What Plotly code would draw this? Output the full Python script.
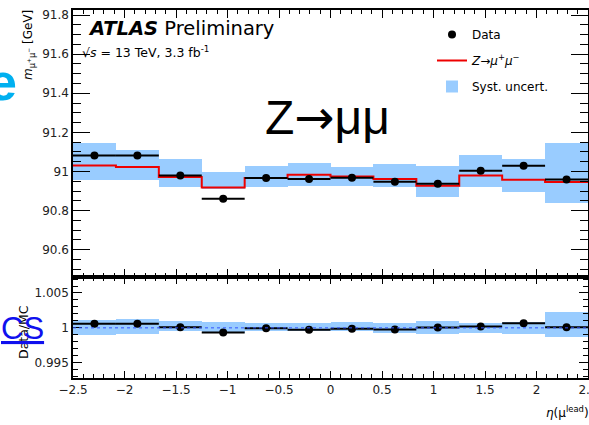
import numpy as np
import plotly.graph_objects as go
from plotly.subplots import make_subplots

# ---- data ----
bin_edges = np.linspace(-2.5, 2.5, 13)
data_mass = [91.081, 91.081, 90.979, 90.860, 90.966, 90.961, 90.968, 90.947, 90.937, 91.004, 91.029, 90.959]
mc_mass = [91.031, 91.023, 90.971, 90.918, 90.966, 90.983, 90.974, 90.961, 90.927, 90.979, 90.957, 90.946]
syst_hi = [91.146, 91.111, 91.064, 90.995, 91.026, 91.043, 91.021, 91.038, 91.029, 91.082, 91.065, 91.146]
syst_lo = [90.954, 90.954, 90.923, 90.910, 90.923, 90.927, 90.928, 90.920, 90.869, 90.920, 90.894, 90.838]
ratio_vals = [1.00057, 1.00057, 1.0001, 0.99933, 0.99996, 0.99971, 0.99986, 0.99976, 1.00004, 1.00019, 1.00067, 1.0001]
ratio_hi = [1.00114, 1.00124, 1.00105, 1.0009, 1.00067, 1.00067, 1.00081, 1.00076, 1.00105, 1.00067, 1.0009, 1.00233]
ratio_lo = [0.999, 0.99914, 0.99948, 0.99924, 0.99948, 0.99957, 0.99948, 0.99924, 0.99914, 0.99924, 0.99914, 0.99876]

centers = 0.5 * (bin_edges[:-1] + bin_edges[1:])
widths = np.diff(bin_edges)
half = widths / 2

BAND = "#99ccff"
RED = "#ee0000"
FONT = "DejaVu Sans"
W, H = 589, 425
ML, MR, MT, MB = 73, 1, 10, 47
PW, PH = W - ML - MR, H - MT - MB
ratio_frac = (378 - 277) / PH


def px(x):
    return (x - ML) / PW


def py(y):
    return (H - MB - y) / PH


fig = make_subplots(rows=2, cols=1, shared_xaxes=True, vertical_spacing=0,
                    row_heights=[1 - ratio_frac, ratio_frac])

# top panel
fig.add_trace(go.Bar(x=centers, y=np.array(syst_hi) - np.array(syst_lo), base=syst_lo,
                     width=widths, marker=dict(color=BAND, line=dict(width=0)),
                     name="Syst. uncert.", legendrank=3, legendgroup="c"), row=1, col=1)
fig.add_trace(go.Scatter(x=bin_edges, y=list(mc_mass) + [mc_mass[-1]], mode="lines",
                         line=dict(color=RED, width=2, shape="hv"),
                         name="<i>Z→μ<sup>+</sup>μ<sup>−</sup></i>", legendrank=2, legendgroup="b"),
              row=1, col=1)
fig.add_trace(go.Scatter(x=centers, y=data_mass, mode="markers",
                         marker=dict(color="black", size=8),
                         error_x=dict(type="data", array=half, color="black", thickness=2, width=0),
                         name="Data", legendrank=1, legendgroup="a"), row=1, col=1)

# ratio panel
fig.add_trace(go.Bar(x=centers, y=np.array(ratio_hi) - np.array(ratio_lo), base=ratio_lo,
                     width=widths, marker=dict(color=BAND, line=dict(width=0)),
                     showlegend=False), row=2, col=1)
fig.add_hline(y=1, line=dict(color="#3355ff", width=1, dash="dot"), row=2, col=1)
fig.add_trace(go.Scatter(x=centers, y=ratio_vals, mode="markers",
                         marker=dict(color="black", size=8),
                         error_x=dict(type="data", array=half, color="black", thickness=2, width=0),
                         showlegend=False), row=2, col=1)

axis_common = dict(showline=True, linecolor="black", linewidth=1.5, mirror="ticks",
                   ticks="inside", tickcolor="black", tickwidth=1.2, showgrid=False,
                   zeroline=False, automargin=False,
                   tickfont=dict(family=FONT, size=12, color="#222"))

fig.update_xaxes(range=[-2.5, 2.5], dtick=0.5, tick0=-2.5, **axis_common)
fig.update_xaxes(showticklabels=False, ticklen=8,
                 minor=dict(dtick=0.1, ticklen=4, ticks="inside", tickcolor="black", tickwidth=1),
                 row=1, col=1)
fig.update_xaxes(ticklen=7, ticklabeloverflow="allow",
                 minor=dict(dtick=0.1, ticklen=4, ticks="inside", tickcolor="black", tickwidth=1),
                 row=2, col=1)
fig.update_yaxes(**axis_common)
fig.update_yaxes(range=[90.46, 91.826], dtick=0.2, tick0=90.6, ticklen=17,
                 minor=dict(dtick=0.05, ticklen=8, ticks="inside", tickcolor="black", tickwidth=1),
                 row=1, col=1)
fig.update_yaxes(range=[0.99281, 1.00729], dtick=0.005, tick0=0.995, ticklen=9,
                 minor=dict(dtick=0.001, ticklen=5, ticks="inside", tickcolor="black", tickwidth=1),
                 row=2, col=1)

annotations = [
    dict(x=px(86), y=py(28), text="<b><i>ATLAS</i></b> Preliminary", xanchor="left", yanchor="middle",
         font=dict(family=FONT, size=19.5, color="black")),
    dict(x=px(80), y=py(52), text="√<i>s</i> = 13 TeV, 3.3 fb<sup>-1</sup>", xanchor="left", yanchor="middle",
         font=dict(family=FONT, size=12.5, color="black")),
    dict(x=px(327), y=py(117), text="Z<span style=\"font-family:'DejaVu Sans'\">→</span>μμ",
         xanchor="center", yanchor="middle",
         font=dict(family="Liberation Sans", size=48, color="black")),
    dict(x=px(29), y=py(8), text="<i>m</i><sub>μ<sup>+</sup>μ<sup>−</sup></sub> [GeV]", textangle=-90,
         xanchor="center", yanchor="top", font=dict(family=FONT, size=12, color="black")),
    dict(x=px(23), y=py(332), text="Data/MC", textangle=-90, xanchor="center", yanchor="middle",
         font=dict(family=FONT, size=12.5, color="black")),
    dict(x=px(591), y=py(412), text="<i>η</i>(μ<sup>lead</sup>)", xanchor="right", yanchor="middle",
         font=dict(family=FONT, size=12, color="black")),
    dict(x=px(19), y=py(82), text="<b>e</b>", xanchor="right", yanchor="middle",
         font=dict(family="Liberation Sans", size=52, color="#00b0f0")),
    dict(x=px(-1), y=py(328), text="<u>CS</u>", xanchor="left", yanchor="middle",
         font=dict(family="Liberation Sans", size=31, color="#1010ee")),
]
for a in annotations:
    a.update(xref="paper", yref="paper", showarrow=False)

fig.update_layout(
    width=W, height=H, margin=dict(l=ML, r=MR, t=MT, b=MB),
    paper_bgcolor="white", plot_bgcolor="white", barmode="overlay", bargap=0,
    annotations=annotations,
    legend=dict(x=px(432), y=py(20), xanchor="left", yanchor="top", bgcolor="rgba(0,0,0,0)",
                font=dict(family=FONT, size=12, color="black"), traceorder="grouped",
                tracegroupgap=7, itemwidth=30),
    showlegend=True,
)

fig.write_html("out.html")
